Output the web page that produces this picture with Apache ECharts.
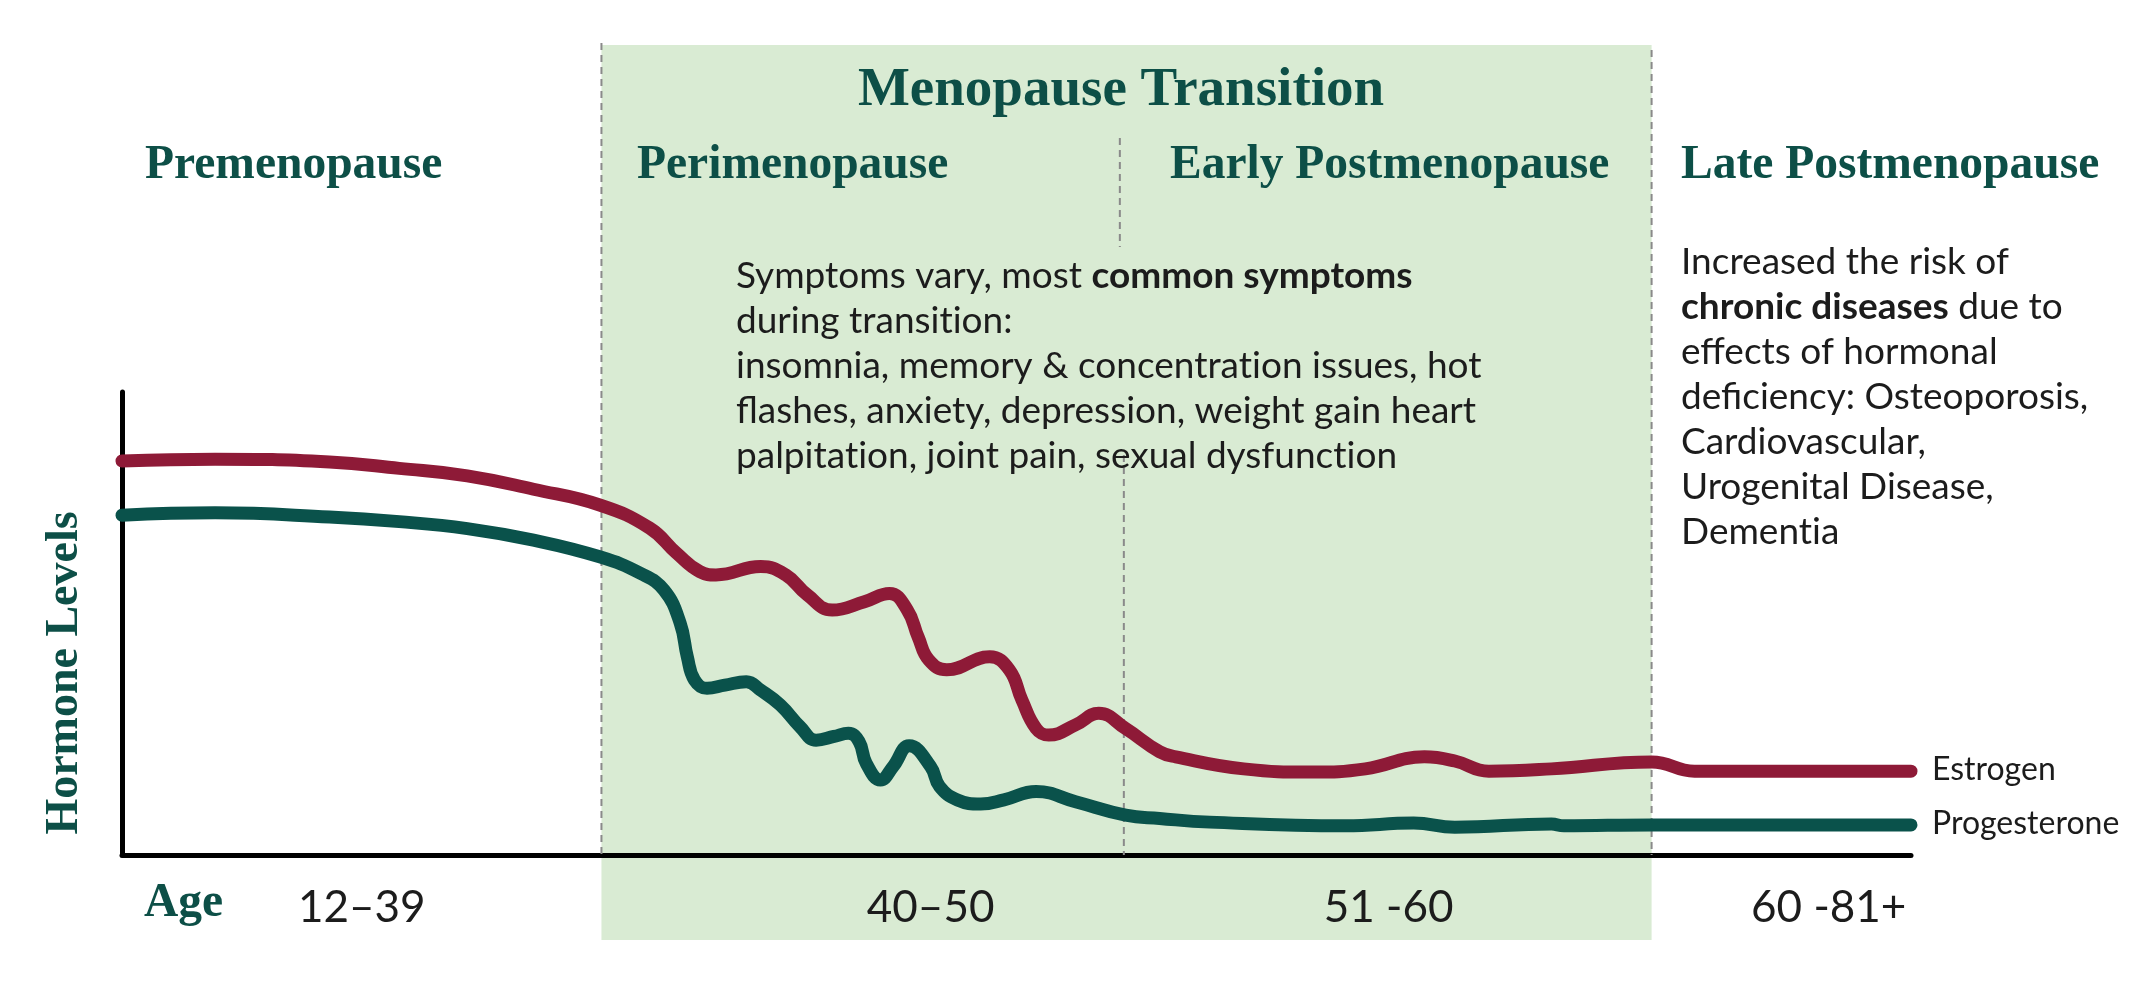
<!DOCTYPE html>
<html><head><meta charset="utf-8">
<script src="https://cdn.jsdelivr.net/npm/echarts@6/dist/echarts.min.js"></script>
<style>html,body{margin:0;padding:0;background:#fff}#c{width:2144px;height:988px}</style>
</head><body><div id="c"></div>
<script>
// timeline position (0-100), relative hormone level (0-100)
const estrogen = [[0,85.1],[5.2,85.5],[11.6,84.9],[15.5,83.5],[19.3,81.9],[23.0,79.0],[26.7,75.6],[29.5,70.6],[31.0,65.2],[32.3,61.2],[33.2,60.5],[35.7,62.3],[37.1,60.5],[38.3,56.2],[39.7,52.9],[41.5,54.7],[42.9,56.5],[43.9,52.9],[44.5,47.1],[45.1,42.1],[46.1,40.0],[48.5,42.8],[49.6,40.0],[50.3,33.5],[51.1,27.3],[51.8,25.9],[53.3,28.1],[54.6,30.6],[56.1,27.3],[58.0,22.3],[58.9,21.2],[62.7,18.6],[66.5,17.9],[69.5,18.6],[72.8,21.2],[74.5,20.3],[76.4,18.1],[79.9,18.6],[85.5,20.1],[87.9,18.1],[91.3,18.1],[100,18.1]];
const progesterone = [[0,73.4],[5.2,73.9],[11.6,73.0],[15.5,72.0],[19.3,70.5],[23.0,68.0],[26.7,64.4],[29.0,60.8],[30.3,57.2],[31.2,50.1],[31.6,42.8],[32.0,37.8],[32.7,36.0],[33.7,36.7],[34.9,37.4],[35.7,35.6],[36.8,32.4],[37.9,27.7],[38.8,24.8],[39.8,25.6],[40.6,26.3],[41.2,24.5],[41.6,19.8],[42.4,16.2],[43.1,19.1],[44.0,23.6],[45.2,19.1],[45.7,14.8],[46.7,11.9],[48.0,11.0],[49.3,11.9],[51.1,13.7],[53.3,11.5],[56.1,8.6],[58.0,7.9],[60.8,7.1],[68.4,6.3],[72.2,6.9],[74.5,6.0],[79.9,6.7],[80.6,6.3],[85.5,6.5],[100,6.5]];
const phaseBounds = [26.8, 56.0, 85.5];
const ageLabels = ['12–39', '40–50', '51 -60', '60 -81+'];
const agePositions = [13.4, 45.2, 70.8, 95.4];
const phaseNames = ['Premenopause', 'Perimenopause', 'Early Postmenopause', 'Late Postmenopause'];

const TEAL = '#0d4f47', RED = '#8e1a37', DARK = '#1c1c1c';
const SERIF = '"Liberation Serif", "Times New Roman", serif';
const SANS = 'Lato, "Open Sans", sans-serif';
const ZW = '\u200C'; // keeps "t"+"i" from forming a ligature

const chart = echarts.init(document.getElementById('c'), null, {renderer: 'canvas'});
chart.setOption({
  animation: false,
  backgroundColor: '#ffffff',
  grid: {left: 122, right: 233, top: 392, bottom: 133},
  xAxis: {
    type: 'value', min: 0, max: 100,
    axisLine: {show: true, lineStyle: {color: '#000', width: 5}},
    axisTick: {show: false},
    splitLine: {show: false},
    axisLabel: {
      customValues: agePositions,
      formatter: v => ageLabels[agePositions.indexOf(v)] || '',
      fontFamily: SANS, fontSize: 44, color: DARK, margin: 31, verticalAlign: 'top'
    }
  },
  yAxis: {
    type: 'value', min: 0, max: 100,
    axisLine: {show: true, lineStyle: {color: '#000', width: 5}},
    axisTick: {show: false}, axisLabel: {show: false}, splitLine: {show: false}
  },
  series: [
    {name: 'Estrogen', type: 'line', data: estrogen, smooth: 0.45, symbol: 'none', z: 5,
     lineStyle: {width: 13, color: RED, cap: 'round', join: 'round'},
     endLabel: {show: true, formatter: '{a}', distance: 21, fontFamily: SANS, fontSize: 32, color: DARK, offset: [0, -2]}},
    {name: 'Progesterone', type: 'line', data: progesterone, smooth: 0.45, symbol: 'none', z: 5,
     lineStyle: {width: 13, color: '#0a524b', cap: 'round', join: 'round'},
     endLabel: {show: true, formatter: '{a}', distance: 21, fontFamily: SANS, fontSize: 32, color: DARK, offset: [0, -1]}}
  ]
});

const px = v => chart.convertToPixel({gridIndex: 0}, [v, 0])[0];
const axisY = chart.convertToPixel({gridIndex: 0}, [0, 0])[1];
const dash = {stroke: '#8a8a8a', lineWidth: 2, lineDash: [7, 5]};
const heading = (text, x, y) => ({type: 'text', x, y, z: 10,
  style: {text, fill: TEAL, fontFamily: SERIF, fontWeight: 'bold', fontSize: 47.5, align: 'left', verticalAlign: 'middle'}});
const body = {fontFamily: SANS, fontSize: 37, fill: DARK, lineHeight: 45};
const rich = {
  n: {fontFamily: SANS, fontSize: 37, color: DARK, lineHeight: 45},
  b: {fontFamily: SANS, fontSize: 37, color: DARK, lineHeight: 45, fontWeight: 'bold'}
};

chart.setOption({
  graphic: [
    {type: 'rect', z: -10, silent: true,
     shape: {x: px(phaseBounds[0]), y: 45, width: px(phaseBounds[2]) - px(phaseBounds[0]), height: 895},
     style: {fill: '#d9ebd3'}},
    {type: 'line', z: 1, shape: {x1: px(phaseBounds[0]), y1: 43, x2: px(phaseBounds[0]), y2: axisY}, style: dash},
    {type: 'line', z: 1, shape: {x1: px(phaseBounds[2]), y1: 50, x2: px(phaseBounds[2]), y2: axisY}, style: dash},
    {type: 'line', z: 1, shape: {x1: px(phaseBounds[1]) - 4, y1: 138, x2: px(phaseBounds[1]) - 4, y2: 247}, style: dash},
    {type: 'line', z: 1, shape: {x1: px(phaseBounds[1]), y1: 455, x2: px(phaseBounds[1]), y2: axisY}, style: dash},
    {type: 'text', x: 1121, y: 91, z: 10,
     style: {text: 'Menopause Transition', fill: TEAL, fontFamily: SERIF, fontWeight: 'bold', fontSize: 55, align: 'center', verticalAlign: 'middle'}},
    heading(phaseNames[0], 145, 166),
    heading(phaseNames[1], 637, 166),
    heading(phaseNames[2], 1170, 166),
    heading(phaseNames[3], 1681, 166),
    heading('Age', 144, 904),
    {type: 'text', x: 65.5, y: 673, rotation: Math.PI / 2, z: 10,
     style: {text: 'Hormone Levels', fill: TEAL, fontFamily: SERIF, fontWeight: 'bold', fontSize: 46, align: 'center', verticalAlign: 'middle'}},
    {type: 'text', x: 736, y: 254, z: 10,
     style: Object.assign({}, body, {align: 'left', verticalAlign: 'top', rich,
       text: '{n|Symptoms vary, most }{b|common symptoms}\n{n|during transit' + ZW + 'ion:}\n{n|insomnia, memory & concentrat' + ZW + 'ion issues, hot}\n{n|flashes, anxiety, depression, weight gain heart}\n{n|palpitat' + ZW + 'ion, joint pain, sexual dysfunct' + ZW + 'ion}'})},
    {type: 'text', x: 1681, y: 240, z: 10,
     style: Object.assign({}, body, {align: 'left', verticalAlign: 'top', rich,
       text: '{n|Increased the risk of}\n{b|chronic diseases}{n| due to}\n{n|effects of hormonal}\n{n|deficiency: Osteoporosis,}\n{n|Cardiovascular,}\n{n|Urogenital Disease,}\n{n|Dement' + ZW + 'ia}'})}
  ]
});
</script>
</body></html>
